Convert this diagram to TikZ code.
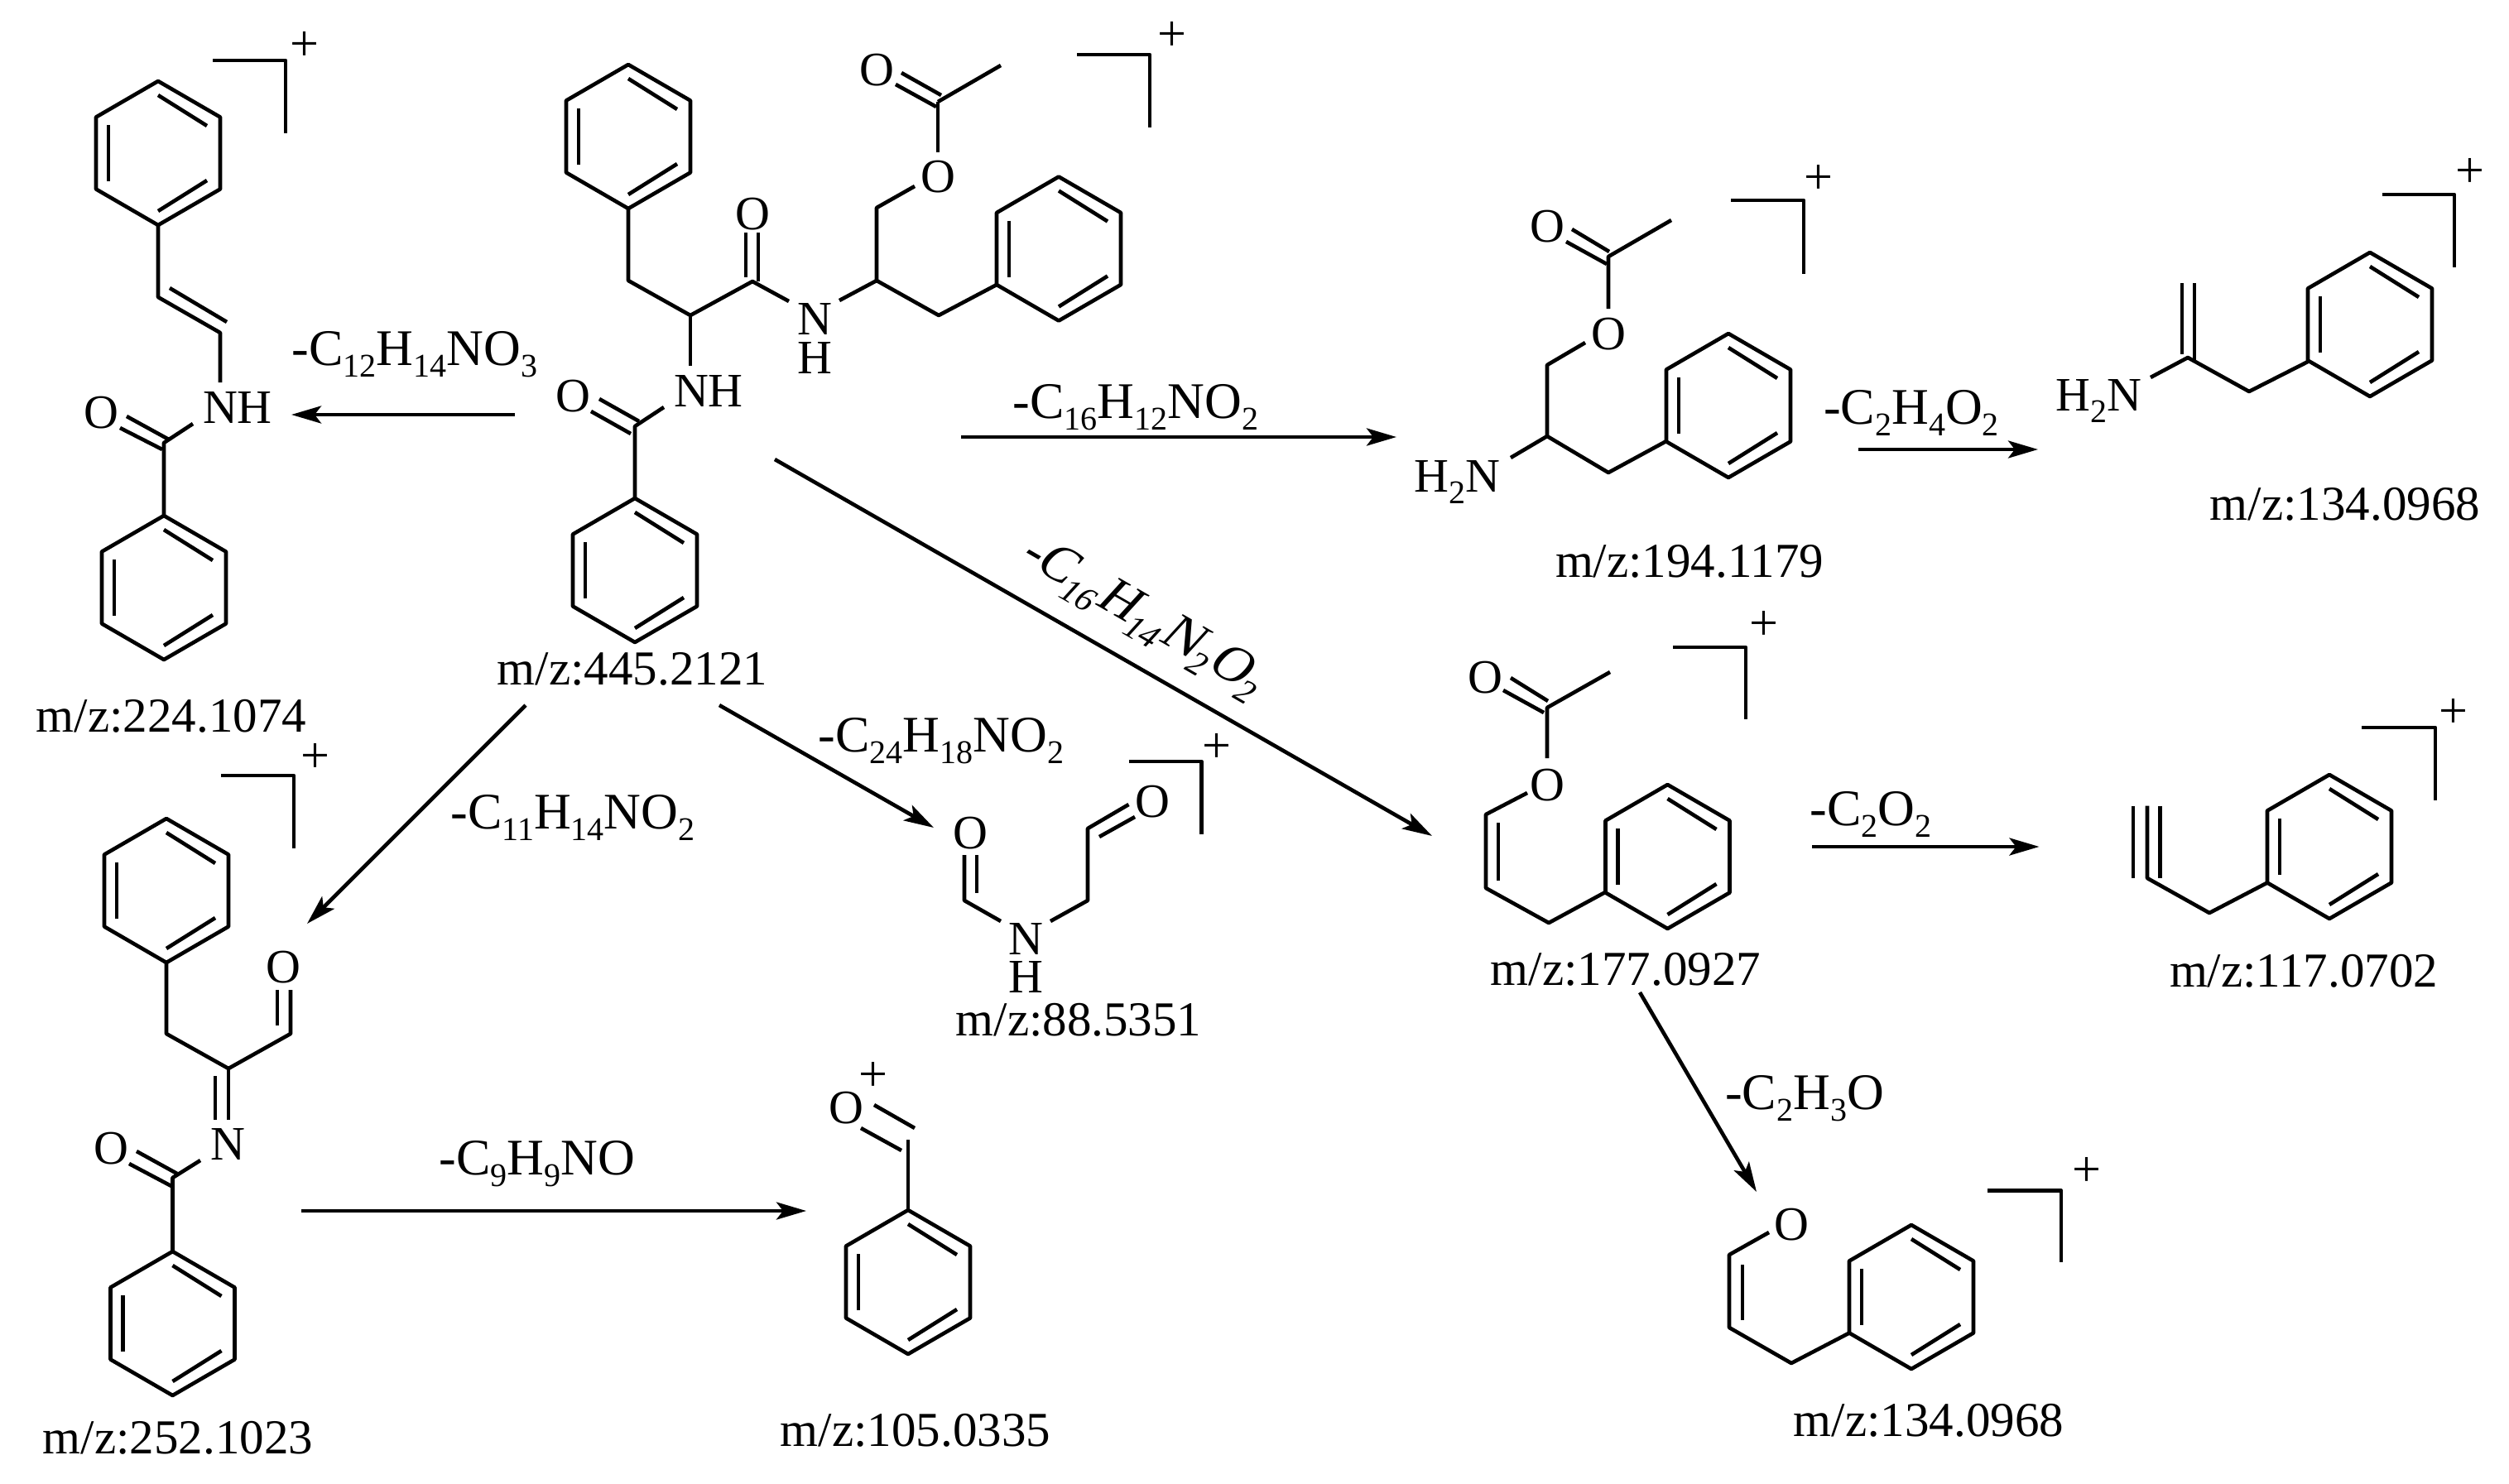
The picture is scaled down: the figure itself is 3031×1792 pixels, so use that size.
\documentclass[tikz,border=0pt]{standalone}
\usepackage{fontspec}
\setmainfont{Liberation Serif}
\usetikzlibrary{arrows.meta}
\newcommand{\sbs}[1]{\raisebox{-14pt}{\fontsize{40}{40}\selectfont #1}}
\newcommand{\benzring}[2]{%
\begin{scope}[shift={(#1,#2)}]
\draw[bond] (0,-87) -- (75,-43.5) -- (75,43.5) -- (0,87) -- (-75,43.5) -- (-75,-43.5) -- cycle;
\draw[bond] (0,-70) -- (59,-33);
\draw[bond] (-60,-34) -- (-60,34);
\draw[bond] (0,70) -- (59,33);
\end{scope}}
\tikzset{
  bond/.style={line width=4.6pt,line join=round},
  rxn/.style={line width=4.6pt,-{Stealth[length=36pt,width=21pt,inset=8pt]}},
  atom/.style={anchor=base,inner sep=0pt,font=\fontsize{58}{60}\selectfont},
  mz/.style={anchor=base,inner sep=0pt,font=\fontsize{59}{60}\selectfont},
  loss/.style={anchor=base,inner sep=0pt,font=\fontsize{62}{64}\selectfont},
  chg/.style={inner sep=0pt,font=\fontsize{62}{62}\selectfont}
}
\begin{document}
\begin{tikzpicture}[x=1pt,y=-1pt]
\useasboundingbox (0,0) rectangle (3031,1792);
\benzring{759}{165}
\draw[bond] (759,252) -- (759,339) -- (834,381) -- (909,340) -- (953,364);
\draw[bond] (901,281) -- (901,335);
\draw[bond] (916,281) -- (916,340);
\node[atom] (moh) at (909,277) {O};
\node[atom] (mn) at (984,404) {N};
\node[atom] (mh) at (984,451) {H};
\draw[bond] (834,381) -- (834,442);
\node[atom] (mnh) at (856,491) {NH};
\draw[bond] (802,492) -- (767,515) -- (767,603);
\draw[bond] (724,482) -- (772,509);
\draw[bond] (714,497) -- (762,524);
\node[atom] (mob) at (692,497) {O};
\benzring{767}{689}
\node[mz] (m445) at (764,827) {m/z:445.2121};
\draw[bond] (1014,363) -- (1059,339) -- (1059,251) -- (1105,225);
\node[atom] (moe) at (1133,232) {O};
\draw[bond] (1133,184) -- (1133,123);
\draw[bond] (1133,123) -- (1209,79);
\draw[bond] (1089,88) -- (1137,115);
\draw[bond] (1082,102) -- (1131,129);
\node[atom] (moc) at (1059,103) {O};
\draw[bond] (1059,339) -- (1134,381) -- (1204,344);
\benzring{1279}{300.5}
\draw[bond] (1301,66) -| (1389,154);
\node[chg] (pm) at (1416,44) {+};

\benzring{191}{185}
\draw[bond] (257,73) -| (345,161);
\node[chg] (pa) at (368,56) {+};
\draw[bond] (191,272) -- (191,359) -- (266,402) -- (266,462);
\draw[bond] (205,348) -- (274,389);
\node[atom] (anh) at (287,511) {NH};
\node[atom] (ao) at (122,517) {O};
\draw[bond] (233,512) -- (198,535) -- (198,623);
\draw[bond] (153,503) -- (204,531);
\draw[bond] (145,517) -- (196,543);
\benzring{198}{710}
\node[mz] (m224) at (207,884) {m/z:224.1074};

\benzring{2088}{490}
\node[atom] (h2nc) at (1760,594) {H\sbs{2}N};
\draw[bond] (1825,553) -- (1869,527) -- (1869,441) -- (1915,414);
\node[atom] (coe) at (1943,422) {O};
\draw[bond] (1943,373) -- (1943,310) -- (2019,266);
\draw[bond] (1899,277) -- (1944,304);
\draw[bond] (1892,292) -- (1941,319);
\node[atom] (coc) at (1869,292) {O};
\draw[bond] (1869,527) -- (1943,571) -- (2013,533);
\draw[bond] (2091,242) -| (2179,331);
\node[chg] (pc) at (2197,217) {+};
\node[mz] (m194) at (2041,697) {m/z:194.1179};

\benzring{2863}{392}
\node[atom] (h2nd) at (2535,496) {H\sbs{2}N};
\draw[bond] (2598,456) -- (2643,432) -- (2717,473) -- (2788,437);
\draw[bond] (2636,342) -- (2636,428);
\draw[bond] (2651,342) -- (2651,437);
\draw[bond] (2878,235) -| (2965,323);
\node[chg] (pd) at (2984,209) {+};
\node[mz] (m134a) at (2833,628) {m/z:134.0968};

\benzring{2014.5}{1035}
\node[atom] (eoc) at (1794,837) {O};
\draw[bond] (1825,819) -- (1870,847);
\draw[bond] (1816,834) -- (1865,861);
\draw[bond] (1945,812) -- (1869,855) -- (1869,916);
\node[atom] (eoe) at (1869,967) {O};
\draw[bond] (1845,958) -- (1795,984) -- (1795,1073) -- (1871,1115) -- (1941,1077);
\draw[bond] (1810,994) -- (1810,1064);
\draw[bond] (2021,782) -| (2109,869);
\node[chg] (pe) at (2131,756) {+};
\node[mz] (m177) at (1964,1190) {m/z:177.0927};

\benzring{201}{1076}
\draw[bond] (267,937) -| (355,1025);
\node[chg] (pf) at (381,916) {+};
\draw[bond] (201,1162) -- (201,1249) -- (276,1291) -- (351,1249) -- (351,1196);
\draw[bond] (335,1196) -- (335,1239);
\node[atom] (foa) at (342.5,1187) {O};
\draw[bond] (276,1291) -- (276,1353);
\draw[bond] (260,1300) -- (260,1353);
\node[atom] (fn) at (275.5,1401) {N};
\draw[bond] (242,1402) -- (208.5,1423) -- (208.5,1512);
\draw[bond] (165,1391) -- (214,1418);
\draw[bond] (156,1406) -- (207,1433);
\node[atom] (fob) at (134,1406) {O};
\benzring{208.5}{1599}
\node[mz] (m252) at (215,1756) {m/z:252.1023};

\node[atom] (go) at (1022,1357) {O};
\node[chg] (pg) at (1055,1301) {+};
\draw[bond] (1056,1335) -- (1105,1363);
\draw[bond] (1040,1363) -- (1089,1390);
\draw[bond] (1097,1377) -- (1097,1463);
\benzring{1097}{1549}
\node[mz] (m105) at (1106,1747) {m/z:105.0335};

\node[atom] (hoa) at (1172,1025) {O};
\draw[bond] (1165,1033) -- (1165,1088) -- (1209,1113);
\draw[bond] (1180,1033) -- (1180,1079);
\node[atom] (hn) at (1239,1153) {N};
\node[atom] (hh) at (1239,1199) {H};
\draw[bond] (1269,1113) -- (1314,1088) -- (1314,1001) -- (1363.5,972);
\draw[bond] (1328,1011) -- (1371,987);
\node[atom] (hob) at (1392,987) {O};
\draw[bond] (1363.5,920) -| (1451.5,1008);
\node[chg] (ph) at (1470,903.5) {+};
\node[mz] (m88) at (1303,1251) {m/z:88.5351};

\benzring{2814}{1023}
\draw[bond] (2594,973.5) -- (2594,1061) -- (2669,1103) -- (2740,1066);
\draw[bond] (2577,973.5) -- (2577,1061);
\draw[bond] (2609.5,973.5) -- (2609.5,1061);
\draw[bond] (2853,879) -| (2942,967);
\node[chg] (pi) at (2964,862) {+};
\node[mz] (m117) at (2783,1192) {m/z:117.0702};

\benzring{2309}{1567}
\node[atom] (jo) at (2164,1498) {O};
\draw[bond] (2137,1489) -- (2089,1516) -- (2089,1604) -- (2164,1647) -- (2235,1610);
\draw[bond] (2105,1528) -- (2105,1595);
\draw[bond] (2401,1438.5) -| (2490,1525);
\node[chg] (pj) at (2521,1415.5) {+};
\node[mz] (m134b) at (2330,1735) {m/z:134.0968};

\coordinate (ra) at (622,501);
\coordinate (rb) at (352,501);
\draw[rxn] (ra) -- (rb);
\node[loss] (la) at (501,441) {-C\sbs{12}H\sbs{14}NO\sbs{3}};
\coordinate (rc) at (1161,528);
\coordinate (rd) at (1687,528);
\draw[rxn] (rc) -- (rd);
\node[loss] (lb) at (1372,505) {-C\sbs{16}H\sbs{12}NO\sbs{2}};
\coordinate (re) at (2245,543);
\coordinate (rf) at (2462,543);
\draw[rxn] (re) -- (rf);
\node[loss] (lc) at (2309,512) {-C\sbs{2}H\sbs{4}O\sbs{2}};
\coordinate (rg) at (936,555);
\coordinate (rh) at (1730,1010);
\draw[rxn] (rg) -- (rh);
\node[loss,anchor=center,rotate=-30,xslant=.22,scale=1.04] (ld) at (1382,748) {-C\sbs{16}H\sbs{14}N\sbs{2}O\sbs{2}};
\coordinate (ri) at (869,852);
\coordinate (rj) at (1128,1000);
\draw[rxn] (ri) -- (rj);
\node[loss] (le) at (1137,908) {-C\sbs{24}H\sbs{18}NO\sbs{2}};
\coordinate (rk) at (635,852);
\coordinate (rl) at (371,1116);
\draw[rxn] (rk) -- (rl);
\node[loss] (lf) at (692,1001) {-C\sbs{11}H\sbs{14}NO\sbs{2}};
\coordinate (rm) at (364,1463);
\coordinate (rn) at (974,1463);
\draw[rxn] (rm) -- (rn);
\node[loss] (lg) at (649,1419) {-C\sbs{9}H\sbs{9}NO};
\coordinate (ro) at (2189,1023);
\coordinate (rp) at (2463.5,1023);
\draw[rxn] (ro) -- (rp);
\node[loss] (lh) at (2260,997) {-C\sbs{2}O\sbs{2}};
\coordinate (rq) at (1981,1199);
\coordinate (rr) at (2122,1440);
\draw[rxn] (rq) -- (rr);
\node[loss] (li) at (2180,1340) {-C\sbs{2}H\sbs{3}O};
\end{tikzpicture}
\end{document}
